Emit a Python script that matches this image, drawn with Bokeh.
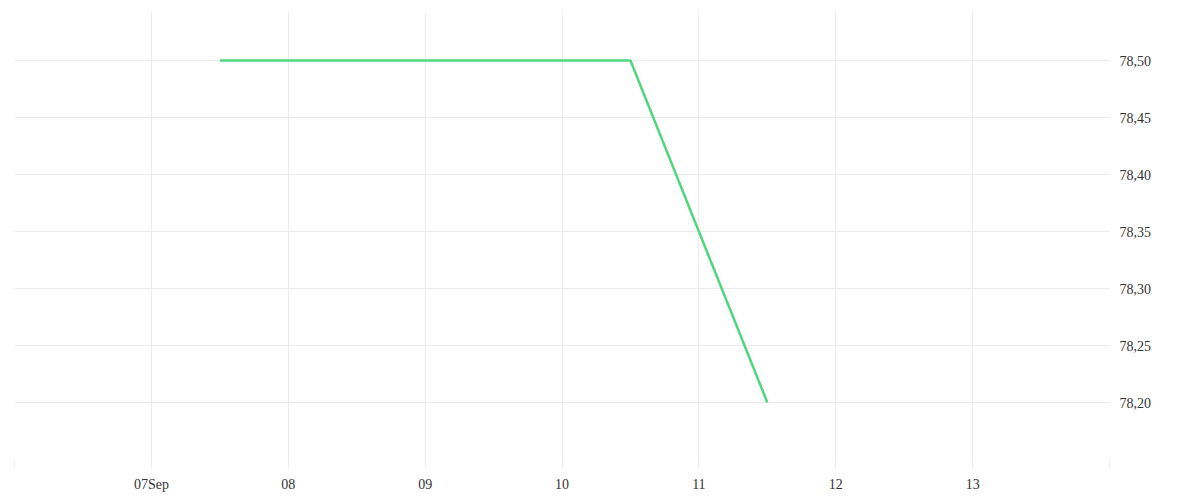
from datetime import datetime
from bokeh.plotting import figure
from bokeh.models import FixedTicker, Range1d, LinearAxis
from bokeh.embed import file_html
from bokeh.resources import INLINE

dates = [datetime(2023, 9, 7, 12), datetime(2023, 9, 8, 12), datetime(2023, 9, 9, 12),
         datetime(2023, 9, 10, 12), datetime(2023, 9, 11, 12)]
values = [78.50, 78.50, 78.50, 78.50, 78.20]

x_tick_dates = [datetime(2023, 9, d) for d in range(6, 15)]
x_tick_labels = ["", "07Sep", "08", "09", "10", "11", "12", "13", ""]
y_ticks = [78.15, 78.20, 78.25, 78.30, 78.35, 78.40, 78.45, 78.50]
y_labels = ["", "78,20", "78,25", "78,30", "78,35", "78,40", "78,45", "78,50"]

def ms(d):
    return (d - datetime(1970, 1, 1)).total_seconds() * 1000.0

GRID = "#ebebeb"
FONT = "Liberation Serif"

p = figure(width=1191, height=494, x_axis_type="datetime", output_backend="svg",
           toolbar_location=None, y_axis_location=None,
           x_range=Range1d(ms(x_tick_dates[0]), ms(x_tick_dates[-1])),
           y_range=Range1d(78.15, 78.543),
           min_border_left=14, min_border_right=82, min_border_top=11, min_border_bottom=30)
p.outline_line_color = None
p.background_fill_color = "white"
p.border_fill_color = "white"

yaxis = LinearAxis(ticker=FixedTicker(ticks=y_ticks),
                   major_label_overrides={t: l for t, l in zip(y_ticks, y_labels)})
p.add_layout(yaxis, "right")

xt = [ms(d) for d in x_tick_dates]
p.xaxis.ticker = FixedTicker(ticks=xt)
p.xaxis.major_label_overrides = {t: l for t, l in zip(xt, x_tick_labels)}

for ax in (p.xaxis[0], yaxis):
    ax.axis_line_color = None
    ax.minor_tick_line_color = None
    ax.major_label_text_font = FONT
    ax.major_label_text_font_size = "14px"
    ax.major_label_text_color = "#333333"

p.xaxis.major_tick_line_color = GRID
p.xaxis.major_tick_in = 0
p.xaxis.major_tick_out = 8
p.xaxis.major_label_standoff = 9
yaxis.major_tick_line_color = None
yaxis.major_tick_out = 0
yaxis.major_tick_in = 0
yaxis.major_label_standoff = 10

p.xgrid.grid_line_color = GRID
p.ygrid.grid_line_color = GRID
p.ygrid.ticker = FixedTicker(ticks=y_ticks)
p.xgrid.ticker = FixedTicker(ticks=xt)

p.line(dates, values, line_color="#4fd67e", line_width=2.5)

open("out.html", "w").write(file_html(p, INLINE))
